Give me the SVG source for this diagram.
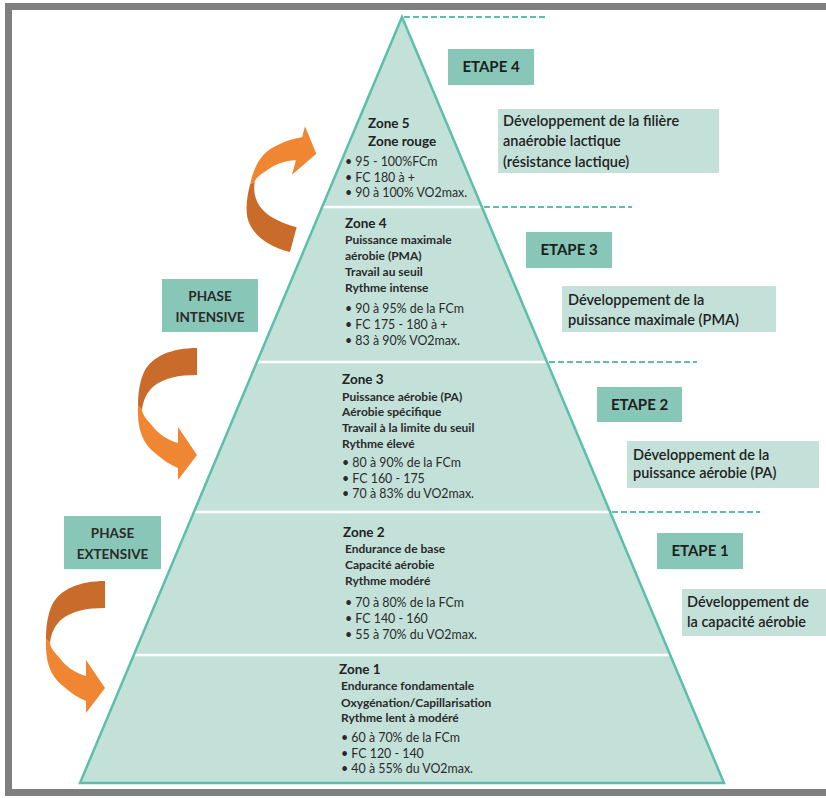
<svg xmlns="http://www.w3.org/2000/svg" xmlns:xlink="http://www.w3.org/1999/xlink" width="826" height="798" viewBox="0 0 826 798">
<style>
  .etape { fill: #88c7b8; }
  .desc { fill: #c3e1d9; }
  .et { font-family: Lato, "Open Sans", sans-serif; font-weight: 700; font-size: 15px; fill: #1e1e1e; text-anchor: middle; }
  .ph { font-family: Lato, "Open Sans", sans-serif; font-weight: 700; font-size: 13.5px; fill: #2a2a2a; text-anchor: middle; }
  .dt { font-family: Lato, "Open Sans", sans-serif; font-weight: 600; font-size: 14.5px; fill: #222; }
  .zh { font-family: Lato, "Open Sans", sans-serif; font-weight: 700; font-size: 13.5px; fill: #222; }
  .zs { font-family: Lato, "Open Sans", sans-serif; font-weight: 700; font-size: 12px; fill: #2a2a2a; }
  .zb { font-family: Lato, "Open Sans", sans-serif; font-weight: 400; font-size: 12.4px; fill: #2a2a2a; }
  .dash { stroke: #5cbfaa; stroke-width: 2; stroke-dasharray: 6 3; fill: none; }
  .div { stroke: #ffffff; stroke-width: 2.5; }
  .dark { fill: #c96c2b; }
  .bright { fill: #f08532; }
</style>
<defs>
  <g id="curl">
    <path class="dark" d="M0,0 C-25,0 -45,8 -53,24 C-58,35 -59,48 -59,58 L-55,62 C-54,52 -50,44 -43,38 C-33,30 -18,27 0,27 Z"/>
    <path class="bright" d="M-59,58 C-60,80 -55,95 -42,105 C-33,113 -26,117 -19,120 L-19,132 L0,107 L-19,79 L-19,95 C-30,92 -40,85 -47,75 C-52,70 -55,65 -55,62 Z"/>
  </g>
</defs>
<rect x="0" y="0" width="826" height="798" fill="#ffffff"/>
<rect x="8.5" y="6.5" width="830" height="786" fill="#ffffff" stroke="#7f7f7f" stroke-width="7"/>

<g id="pyramid">
  <polygon points="402,17 80,783 724,783" fill="#c3e1d9"/>
  <line class="div" x1="322" y1="207" x2="482" y2="207"/>
  <line class="div" x1="257" y1="362" x2="547" y2="362"/>
  <line class="div" x1="194" y1="512" x2="610" y2="512"/>
  <line class="div" x1="134" y1="655" x2="670" y2="655"/>
  <polygon points="402,17 80,783 724,783" fill="none" stroke="#5cbfaa" stroke-width="2.5" stroke-linejoin="miter"/>
</g>

<g id="connectors">
  <line class="dash" x1="404" y1="17" x2="548" y2="17"/>
  <line class="dash" x1="484" y1="207" x2="632" y2="207"/>
  <line class="dash" x1="549" y1="362" x2="697" y2="362"/>
  <line class="dash" x1="612" y1="512" x2="760" y2="512"/>
  <use xlink:href="#curl" href="#curl" transform="translate(290,252) rotate(15) scale(0.95,-0.95)"/>
  <use xlink:href="#curl" href="#curl" transform="translate(197,348)"/>
  <use xlink:href="#curl" href="#curl" transform="translate(105,581)"/>
</g>

<g id="zone5">
  <text class="zh" x="368" y="128">Zone 5</text>
  <text class="zh" x="368" y="146">Zone rouge</text>
  <text class="zb" x="345" y="166">• 95 - 100%FCm</text>
  <text class="zb" x="345" y="182">• FC 180 à +</text>
  <text class="zb" x="345" y="197">• 90 à 100% VO2max.</text>
</g>
<g id="zone4">
  <text class="zh" x="345" y="228">Zone 4</text>
  <text class="zs" x="345" y="244">Puissance maximale</text>
  <text class="zs" x="345" y="260">aérobie (PMA)</text>
  <text class="zs" x="345" y="276">Travail au seuil</text>
  <text class="zs" x="345" y="292">Rythme intense</text>
  <text class="zb" x="345" y="313">• 90 à 95% de la FCm</text>
  <text class="zb" x="345" y="329">• FC 175 - 180 à +</text>
  <text class="zb" x="345" y="345">• 83 à 90% VO2max.</text>
</g>
<g id="zone3">
  <text class="zh" x="342" y="384">Zone 3</text>
  <text class="zs" x="342" y="401">Puissance aérobie (PA)</text>
  <text class="zs" x="342" y="416">Aérobie spécifique</text>
  <text class="zs" x="342" y="432">Travail à la limite du seuil</text>
  <text class="zs" x="342" y="448">Rythme élevé</text>
  <text class="zb" x="342" y="467">• 80 à 90% de la FCm</text>
  <text class="zb" x="342" y="483">• FC 160 - 175</text>
  <text class="zb" x="342" y="498">• 70 à 83% du VO2max.</text>
</g>
<g id="zone2">
  <text class="zh" x="343" y="537">Zone 2</text>
  <text class="zs" x="345" y="553">Endurance de base</text>
  <text class="zs" x="345" y="569">Capacité aérobie</text>
  <text class="zs" x="345" y="585">Rythme modéré</text>
  <text class="zb" x="345" y="607">• 70 à 80% de la FCm</text>
  <text class="zb" x="345" y="623">• FC 140 - 160</text>
  <text class="zb" x="345" y="639">• 55 à 70% du VO2max.</text>
</g>
<g id="zone1">
  <text class="zh" x="339" y="674">Zone 1</text>
  <text class="zs" x="341" y="690">Endurance fondamentale</text>
  <text class="zs" x="341" y="707">Oxygénation/Capillarisation</text>
  <text class="zs" x="341" y="722">Rythme lent à modéré</text>
  <text class="zb" x="341" y="742">• 60 à 70% de la FCm</text>
  <text class="zb" x="341" y="758">• FC 120 - 140</text>
  <text class="zb" x="341" y="773">• 40 à 55% du VO2max.</text>
</g>

<g id="etape4">
  <rect class="etape" x="448" y="49" width="86" height="36"/>
  <text class="et" x="491" y="72">ETAPE 4</text>
</g>
<g id="etape3">
  <rect class="etape" x="526" y="232" width="86" height="36"/>
  <text class="et" x="569" y="255">ETAPE 3</text>
</g>
<g id="etape2">
  <rect class="etape" x="597" y="387" width="85" height="35"/>
  <text class="et" x="639.5" y="410">ETAPE 2</text>
</g>
<g id="etape1">
  <rect class="etape" x="657" y="533" width="86" height="36"/>
  <text class="et" x="700" y="556">ETAPE 1</text>
</g>

<g id="desc4">
  <rect class="desc" x="498" y="109" width="221" height="64"/>
  <text class="dt" x="503" y="126">Développement de la filière</text>
  <text class="dt" x="503" y="146">anaérobie lactique</text>
  <text class="dt" x="503" y="167">(résistance lactique)</text>
</g>
<g id="desc3">
  <rect class="desc" x="562" y="286" width="214" height="46"/>
  <text class="dt" x="568" y="305">Développement de la</text>
  <text class="dt" x="568" y="325">puissance maximale (PMA)</text>
</g>
<g id="desc2">
  <rect class="desc" x="627" y="441" width="192" height="47"/>
  <text class="dt" x="633" y="460">Développement de la</text>
  <text class="dt" x="633" y="478">puissance aérobie (PA)</text>
</g>
<g id="desc1">
  <rect class="desc" x="682" y="589" width="150" height="47"/>
  <text class="dt" x="687" y="607">Développement de</text>
  <text class="dt" x="687" y="627">la capacité aérobie</text>
</g>

<g id="phase-intensive">
  <rect class="etape" x="162" y="279" width="96" height="53"/>
  <text class="ph" x="210" y="301">PHASE</text>
  <text class="ph" x="210" y="322">INTENSIVE</text>
</g>
<g id="phase-extensive">
  <rect class="etape" x="64" y="516" width="97" height="53"/>
  <text class="ph" x="112.5" y="538">PHASE</text>
  <text class="ph" x="112.5" y="559">EXTENSIVE</text>
</g>
</svg>
